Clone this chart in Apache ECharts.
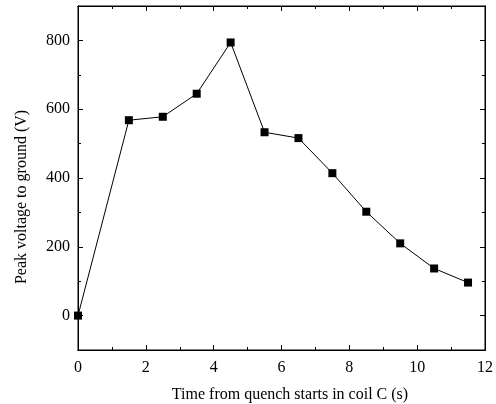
<!DOCTYPE html>
<html><head><meta charset="utf-8">
<script src="https://cdn.jsdelivr.net/npm/echarts@6/dist/echarts.min.js"></script>
<style>html,body{margin:0;padding:0;background:#fff}#c{width:496px;height:404px}</style>
</head><body><div id="c"></div>
<script>
const timeS = [0, 1.5, 2.5, 3.5, 4.5, 5.5, 6.5, 7.5, 8.5, 9.5, 10.5, 11.5];
const peakV = [0, 568, 578, 645, 794, 533, 516, 414, 302, 210, 137, 96];
const xTicks = [0, 2, 4, 6, 8, 10, 12];
const xMinor = [1, 3, 5, 7, 9, 11];
const yTicks = [0, 200, 400, 600, 800];
const yMinor = [100, 300, 500, 700];
const xTitle = 'Time from quench starts in coil C (s)';
const yTitle = 'Peak voltage to ground (V)';

const font = 'Liberation Serif';
const ls = () => ({color: '#000', width: 1});
function labelOpt(ticks, labels, margin) {
  return labels
    ? {show: true, customValues: ticks, color: '#000', fontFamily: font, fontSize: 16, margin: margin}
    : {show: false};
}
function xAx(grid, ticks, len, labels, inside, extra) {
  return Object.assign({
    gridIndex: grid, type: 'value', min: 0, max: 12, position: 'bottom',
    axisLine: {show: true, onZero: false, lineStyle: ls()},
    axisTick: {show: true, inside: inside, length: len, customValues: ticks, lineStyle: ls()},
    axisLabel: labelOpt(ticks, labels, 10),
    splitLine: {show: false}
  }, extra || {});
}
function yAx(grid, ticks, len, labels, inside, extra) {
  return Object.assign({
    gridIndex: grid, type: 'value', min: -100, max: 900, position: 'left',
    axisLine: {show: true, onZero: false, lineStyle: ls()},
    axisTick: {show: true, inside: inside, length: len, customValues: ticks, lineStyle: ls()},
    axisLabel: labelOpt(ticks, labels, 8),
    splitLine: {show: false}
  }, extra || {});
}
const hiddenX = (g) => ({gridIndex: g, type: 'value', min: 0, max: 1, show: false});
const hiddenY = (g) => ({gridIndex: g, type: 'value', min: 0, max: 1, show: false});

const chart = echarts.init(document.getElementById('c'));
chart.setOption({
  animation: false,
  grid: [
    {left: 78, right: 11, top: 6, bottom: 54, outerBoundsMode: 'none', show: true, borderColor: '#000', borderWidth: 1, backgroundColor: 'transparent'},
    {left: 78, right: 11, top: 5, height: 1, outerBoundsMode: 'none'},
    {left: 485, width: 1, top: 6, bottom: 54, outerBoundsMode: 'none'}
  ],
  xAxis: [
    xAx(0, xMinor, 3, false, true),
    xAx(0, xTicks, 5, true, true, {name: xTitle, nameLocation: 'middle', nameGap: 37, nameTextStyle: {color: '#000', fontFamily: font, fontSize: 16, padding: [0, 0, 0, 17]}}),
    xAx(1, xMinor, 3, false, false),
    xAx(1, xTicks, 5, false, false),
    hiddenX(2)
  ],
  yAxis: [
    yAx(0, yMinor, 3, false, true),
    yAx(0, yTicks, 5, true, true, {name: yTitle, nameLocation: 'middle', nameGap: 48, nameTextStyle: {color: '#000', fontFamily: font, fontSize: 16, padding: [0, 38, 0, 0]}}),
    hiddenY(1),
    yAx(2, yMinor, 3, false, false),
    yAx(2, yTicks, 5, false, false)
  ],
  series: [{
    type: 'line',
    xAxisIndex: 1, yAxisIndex: 1,
    data: timeS.map((t, i) => [t, peakV[i]]),
    symbol: 'rect', symbolSize: 8,
    itemStyle: {color: '#000'},
    lineStyle: {color: '#000', width: 1},
    clip: false
  }]
});
</script></body></html>
